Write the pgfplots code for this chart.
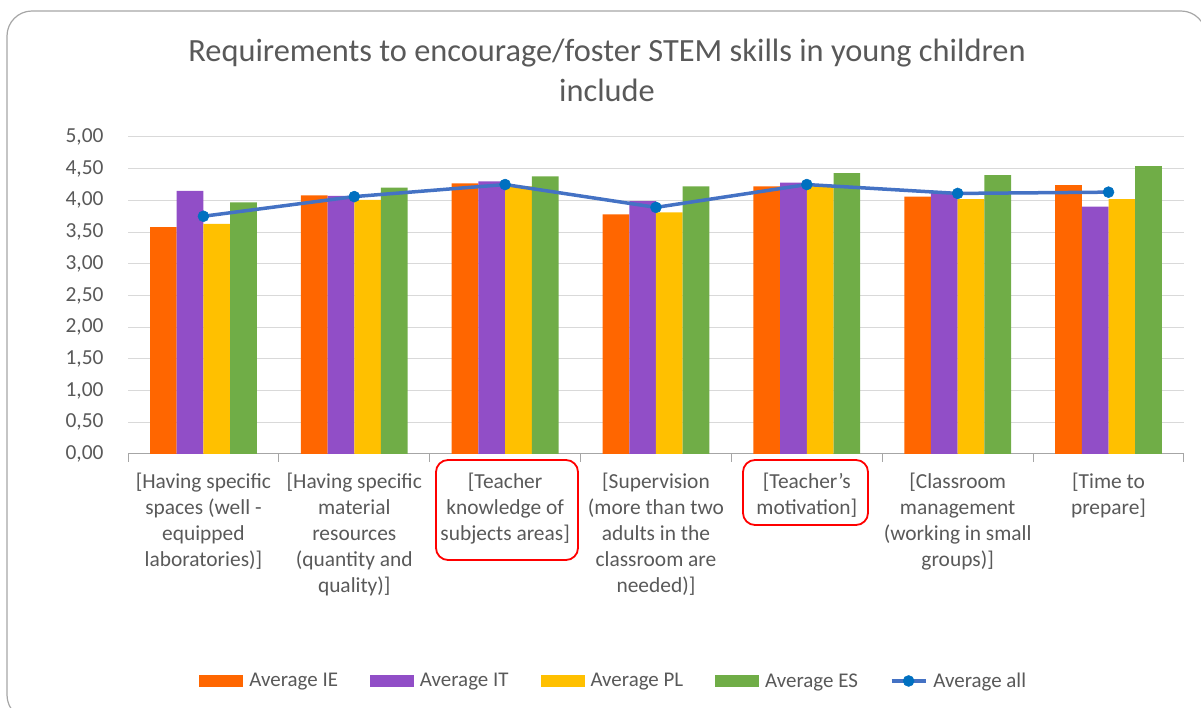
\documentclass[border=0pt]{standalone}
\usepackage{pgfplots}
\pgfplotsset{compat=1.18}
\usepackage{fontspec}
\setmainfont{Carlito}

\definecolor{cIE}{HTML}{FF6600}
\definecolor{cIT}{RGB}{145,78,199}
\definecolor{cPL}{HTML}{FFC000}
\definecolor{cES}{HTML}{70AD47}
\definecolor{cline}{HTML}{4472C4}
\definecolor{cmark}{HTML}{0070C0}
\definecolor{txtgray}{HTML}{595959}
\definecolor{gridgray}{HTML}{D9D9D9}
\definecolor{axgray}{HTML}{A6A6A6}

\pgfplotsset{
  barleg/.style={legend image code/.code={\fill[##1] (0bp,-6bp) rectangle (44bp,6bp);}},
  lineleg/.style={legend image code/.code={\draw[##1] (0bp,0bp) -- (34bp,0bp);
    \draw[##1] plot coordinates {(17bp,0bp)};}},
}

\begin{document}
\begin{tikzpicture}
\path[use as bounding box] (0,0) rectangle (1201bp,708bp);
% outer frame of the chart area
\draw[axgray, line width=1.2bp, rounded corners=25bp] (7bp,697bp) rectangle (1206bp,-12bp);

\begin{axis}[
  at={(128bp,254bp)}, anchor=south west,
  scale only axis, width=1056bp, height=317bp,
  ybar=0pt, bar width=0.177,
  xmin=-0.5, xmax=6.5, ymin=0, ymax=5,
  ytick={0,0.5,...,5},
  xtick={0,...,6},
  minor xtick={-0.5,0.5,...,6.5},
  xticklabels={
    {[Having specific\\spaces (well -\\equipped\\laboratories)]},
    {[Having specific\\material\\resources\\(quantity and\\quality)]},
    {[Teacher\\knowledge of\\subjects areas]},
    {[Supervision\\(more than two\\adults in the\\classroom are\\needed)]},
    {[Teacher’s\\motivation]},
    {[Classroom\\management\\(working in small\\groups)]},
    {[Time to\\prepare]}},
  axis x line*=bottom, axis y line*=left,
  x axis line style={axgray, line width=1bp},
  y axis line style={draw=none},
  major x tick style={draw=none},
  minor x tick style={axgray, line width=1bp},
  minor tick length=8bp,
  ytick style={draw=none},
  tick align=outside,
  ymajorgrids, grid style={gridgray, line width=1bp},
  xticklabel style={font=\fontsize{21.5}{26}\selectfont, text=txtgray,
    align=center, inner sep=0pt, yshift=-15bp},
  yticklabel style={font=\fontsize{21.5}{26}\selectfont, text=txtgray,
    inner sep=0pt, xshift=-20bp},
  /pgf/number format/.cd, fixed, fixed zerofill, precision=2, use comma,
  assume math mode=true,
  /pgfplots/.cd,
  legend columns=-1,
  legend style={at={(0.460,-0.716)}, anchor=center, draw=none,
    font=\fontsize{21}{24}\selectfont, text=txtgray,
    /tikz/every odd column/.append style={column sep=4bp},
    /tikz/every even column/.append style={column sep=30bp},
    nodes={inner sep=2bp}},
  clip=false,
]
\addplot[fill=cIE, draw=none, barleg] coordinates {(0,3.58) (1,4.08) (2,4.27) (3,3.78) (4,4.22) (5,4.06) (6,4.24)};
\addplot[fill=cIT, draw=none, barleg] coordinates {(0,4.15) (1,4.07) (2,4.30) (3,3.99) (4,4.28) (5,4.13) (6,3.90)};
\addplot[fill=cPL, draw=none, barleg] coordinates {(0,3.63) (1,4.01) (2,4.22) (3,3.81) (4,4.24) (5,4.02) (6,4.02)};
\addplot[fill=cES, draw=none, barleg] coordinates {(0,3.97) (1,4.20) (2,4.38) (3,4.22) (4,4.43) (5,4.40) (6,4.54)};
\addplot[sharp plot, cline, line width=3.5bp, mark=*, mark size=5.5bp,
  mark options={fill=cmark, draw=cmark, line width=0.5bp}, lineleg]
  coordinates {(0,3.75) (1,4.06) (2,4.25) (3,3.89) (4,4.25) (5,4.11) (6,4.13)};
\legend{Average IE, Average IT, Average PL, Average ES, Average all}
\end{axis}

\node[font=\fontsize{32.5}{40}\selectfont, text=txtgray, align=center] at (607bp,638bp)
  {Requirements to encourage/foster STEM skills in young children\\include};

% highlighted categories
\draw[red, line width=1.8bp, rounded corners=12bp] (436bp,248bp) rectangle (578bp,148bp);
\draw[red, line width=1.8bp, rounded corners=12bp] (743bp,248bp) rectangle (868bp,183bp);
\end{tikzpicture}
\end{document}
